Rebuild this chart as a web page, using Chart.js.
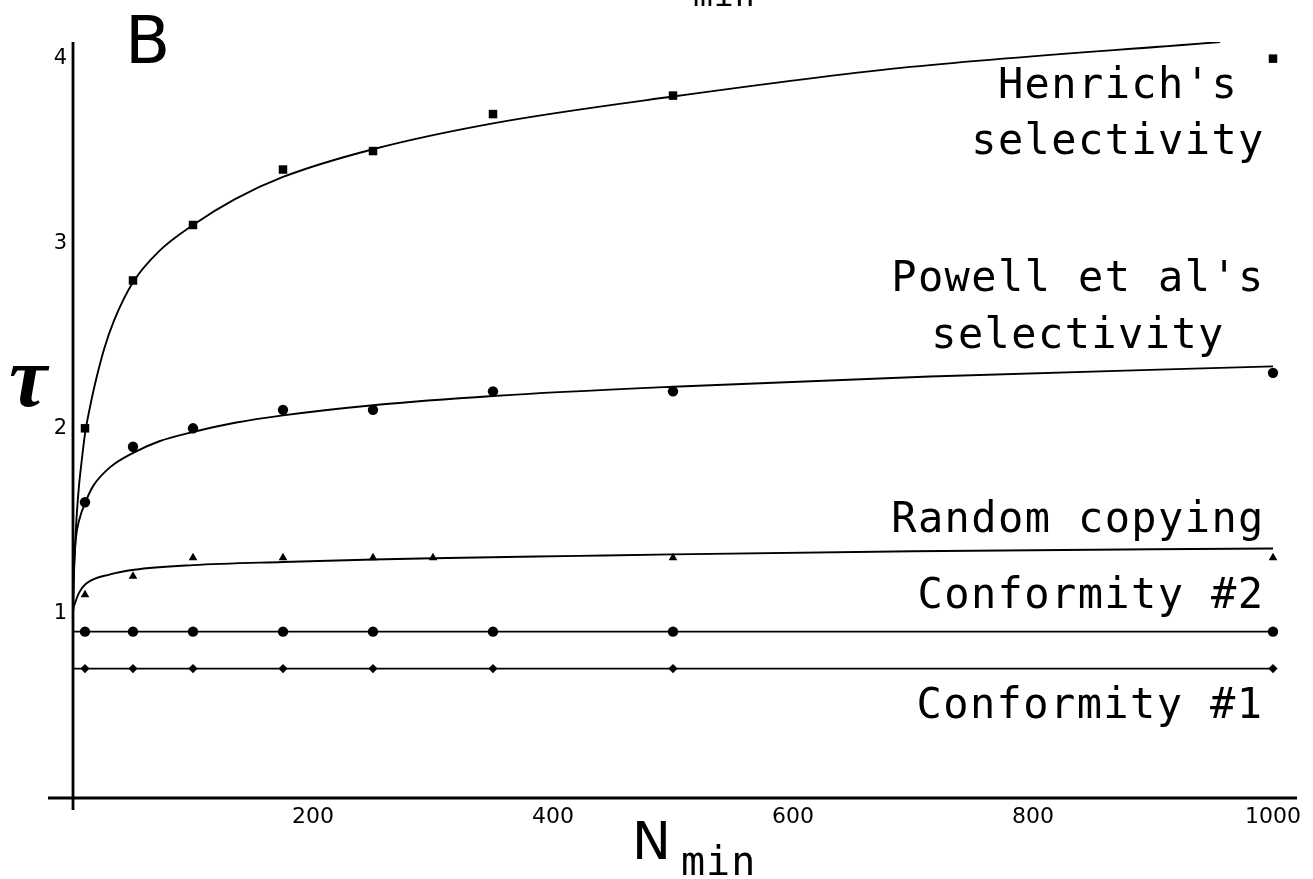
<!DOCTYPE html>
<html>
<head>
<meta charset="utf-8">
<script src="https://cdn.jsdelivr.net/npm/chart.js@4.4.1/dist/chart.umd.min.js"></script>
<style>
  html, body { margin: 0; padding: 0; background: #fff; }
  #wrap { width: 1313px; height: 879px; }
</style>
</head>
<body>
<div id="wrap"><canvas id="c" width="1313" height="879"></canvas></div>
<script>
// ---------- data ----------
const pointN        = [10, 50, 100, 175, 250, 350, 500, 1000];
const randomN       = [10, 50, 100, 175, 250, 300, 500, 1000];
const henrichTau    = [2.0, 2.8, 3.1, 3.4, 3.5, 3.7, 3.8, 4.0];
const powellTau     = [1.6, 1.9, 2.0, 2.1, 2.1, 2.2, 2.2, 2.3];
const randomTau     = [1.1, 1.2, 1.3, 1.3, 1.3, 1.3, 1.3, 1.3];
const conf2Tau      = [0.9, 0.9, 0.9, 0.9, 0.9, 0.9, 0.9, 0.9];
const conf1Tau      = [0.7, 0.7, 0.7, 0.7, 0.7, 0.7, 0.7, 0.7];

// fitted curves
const henrichCurveN   = [0, 0.5, 1, 2, 3, 5, 7, 10, 14, 18, 26, 34, 50, 72, 100, 135, 175, 250, 350, 500, 690, 956];
const henrichCurveTau = [1.0, 1.14, 1.25, 1.4, 1.52, 1.69, 1.81, 1.97, 2.11, 2.23, 2.43, 2.58, 2.79, 2.96, 3.1, 3.24, 3.36, 3.51, 3.65, 3.795, 3.95, 4.09];
const powellCurveN    = [0, 0.3, 1, 2.5, 5, 11, 17, 31, 51, 72, 100, 135, 175, 250, 350, 500, 714, 1000];
const powellCurveTau  = [1.0, 1.15, 1.27, 1.41, 1.5, 1.61, 1.69, 1.79, 1.87, 1.93, 1.98, 2.03, 2.07, 2.125, 2.175, 2.225, 2.28, 2.335];
const randomCurveN    = [0, 0.5, 1.5, 2.5, 5, 11, 31, 51, 100, 175, 250, 300, 422, 500, 700, 1000];
const randomCurveTau  = [1.0, 1.03, 1.05, 1.07, 1.11, 1.16, 1.21, 1.235, 1.26, 1.277, 1.29, 1.297, 1.31, 1.318, 1.335, 1.35];
const conf2LineN   = [0, 1000];
const conf2LineTau = [0.9, 0.9];
const conf1LineN   = [0, 1000];
const conf1LineTau = [0.7, 0.7];

const xTicks = [200, 400, 600, 800, 1000];
const yTicks = [1, 2, 3, 4];

const seriesLabels = [
  { lines: ["Henrich's", "selectivity"] },
  { lines: ["Powell et al's", "selectivity"] },
  { lines: ["Random copying"] },
  { lines: ["Conformity #2"] },
  { lines: ["Conformity #1"] }
];

// ---------- helpers ----------
const zip = (xs, ys) => xs.map((x, i) => ({ x: x, y: ys[i] }));
const curve = (xs, ys) => ({
  data: zip(xs, ys), showLine: true, pointRadius: 0, borderColor: '#000',
  borderWidth: 1.9, cubicInterpolationMode: 'monotone', fill: false
});
const marks = (xs, ys, style, r) => ({
  data: zip(xs, ys), showLine: false, pointStyle: style, pointRadius: r,
  pointBackgroundColor: '#000', pointBorderColor: '#000', pointBorderWidth: 0
});

// label layout (positions only)
const labelPos = [
  { cx: 1118, base: [98, 154] },
  { cx: 1078, base: [291, 348] },
  { cx: 1078, base: [532] },
  { cx: 1091, base: [608] },
  { cx: 1090, base: [718] }
];

const decor = {
  id: 'decor',
  afterDraw(chart) {
    const ctx = chart.ctx;
    const xs = chart.scales.x, ys = chart.scales.y;
    const x0 = xs.getPixelForValue(0), y0 = ys.getPixelForValue(0);
    ctx.save();
    ctx.strokeStyle = '#000';
    ctx.lineWidth = 2.8;
    ctx.beginPath();
    ctx.moveTo(48, y0); ctx.lineTo(chart.chartArea.right, y0);
    ctx.moveTo(x0, chart.chartArea.top); ctx.lineTo(x0, y0 + 12);
    ctx.stroke();

    ctx.fillStyle = '#000';
    ctx.textBaseline = 'alphabetic';
    // series labels
    ctx.font = '42px "DejaVu Sans Mono"';
    ctx.textAlign = 'center';
    try { ctx.letterSpacing = '1.4px'; } catch (e) {}
    seriesLabels.forEach((s, i) => {
      s.lines.forEach((t, j) => ctx.fillText(t, labelPos[i].cx, labelPos[i].base[j]));
    });
    try { ctx.letterSpacing = '0px'; } catch (e) {}

    // panel letter
    ctx.textAlign = 'left';
    ctx.font = '66px "DejaVu Sans"';
    ctx.fillText('B', 125, 63);

    // y axis title
    ctx.textAlign = 'center';
    ctx.font = 'bold italic 86px "Liberation Serif"';
    ctx.fillText('\u03C4', 28, 406);

    // x axis title N_min
    ctx.textAlign = 'left';
    ctx.font = '52px "DejaVu Sans"';
    ctx.fillText('N', 632, 859);
    ctx.font = '40px "DejaVu Sans Mono"';
    try { ctx.letterSpacing = '1px'; } catch (e) {}
    ctx.fillText('min', 681, 875);
    // cut-off subscript from the panel above
    ctx.font = '33px "DejaVu Sans Mono"';
    ctx.fillText('min', 693, 6);
    ctx.restore();
  }
};

new Chart(document.getElementById('c'), {
  type: 'scatter',
  data: {
    datasets: [
      curve(henrichCurveN, henrichCurveTau),
      curve(powellCurveN, powellCurveTau),
      curve(randomCurveN, randomCurveTau),
      curve(conf2LineN, conf2LineTau),
      curve(conf1LineN, conf1LineTau),
      marks(pointN, henrichTau, 'rect', 6),
      marks(pointN, powellTau, 'circle', 5.2),
      marks(randomN, randomTau, 'triangle', 5),
      marks(pointN, conf2Tau, 'circle', 5.2),
      marks(pointN, conf1Tau, 'rectRot', 4.6)
    ]
  },
  options: {
    responsive: false,
    animation: false,
    devicePixelRatio: 1,
    layout: { padding: { top: 42, right: 16, left: 0, bottom: 0 } },
    plugins: { legend: { display: false }, tooltip: { enabled: false } },
    scales: {
      x: {
        type: 'linear', min: 0, max: 1020,
        grid: { display: false, drawTicks: false },
        border: { display: false },
        afterBuildTicks: s => { s.ticks = xTicks.map(v => ({ value: v })); },
        afterFit: s => { s.height = 81; },
        ticks: { color: '#000', font: { family: 'DejaVu Sans', size: 22 }, padding: 6, maxRotation: 0,
                 callback: v => String(v) }
      },
      y: {
        type: 'linear', min: 0, max: 4.09,
        grid: { display: false, drawTicks: false },
        border: { display: false },
        afterBuildTicks: s => { s.ticks = yTicks.map(v => ({ value: v })); },
        afterFit: s => { s.width = 73; },
        ticks: { color: '#000', font: { family: 'DejaVu Sans', size: 21 }, padding: 6,
                 callback: v => String(v) }
      }
    }
  },
  plugins: [decor]
});
</script>
</body>
</html>
